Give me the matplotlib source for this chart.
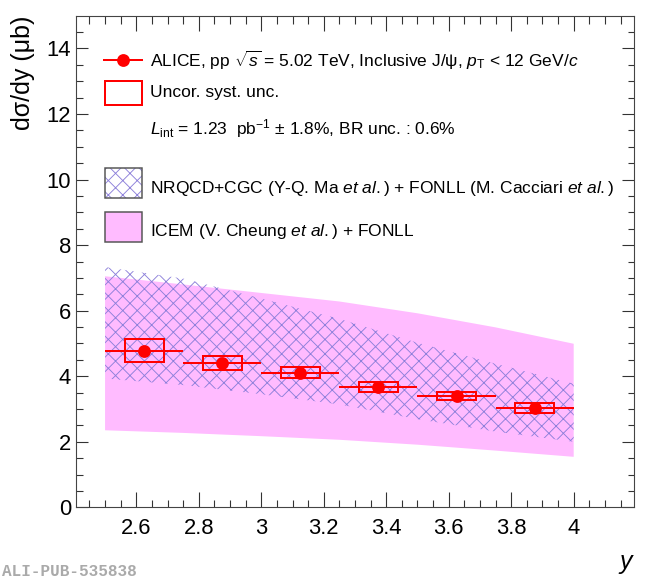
import matplotlib
matplotlib.use("Agg")
import matplotlib.pyplot as plt
from matplotlib.patches import Rectangle
from matplotlib.lines import Line2D
import numpy as np

# ---------------- data ----------------
rap_centers = [2.625, 2.875, 3.125, 3.375, 3.625, 3.875]
rap_halfwidth = [0.125, 0.125, 0.125, 0.125, 0.125, 0.125]
xsec = [4.78, 4.40, 4.11, 3.67, 3.40, 3.02]
xsec_stat = [0.06, 0.05, 0.05, 0.04, 0.04, 0.04]
xsec_syst = [0.36, 0.22, 0.17, 0.14, 0.13, 0.15]
syst_box_halfwidth = 0.0625

model_x = [2.5, 2.75, 3.0, 3.25, 3.5, 3.75, 4.0]
icem_low = [2.35, 2.27, 2.17, 2.06, 1.91, 1.73, 1.54]
icem_high = [7.05, 6.80, 6.54, 6.28, 5.92, 5.49, 4.99]
nrqcd_low = [3.93, 3.73, 3.45, 3.14, 2.69, 2.31, 2.00]
nrqcd_high = [7.33, 6.98, 6.37, 5.75, 5.02, 4.38, 3.77]

xtick_vals = [2.6, 2.8, 3.0, 3.2, 3.4, 3.6, 3.8, 4.0]
xtick_labels = ["2.6", "2.8", "3", "3.2", "3.4", "3.6", "3.8", "4"]
ytick_vals = [0, 2, 4, 6, 8, 10, 12, 14]
ytick_labels = ["0", "2", "4", "6", "8", "10", "12", "14"]

# ---------------- style ----------------
W, H, DPI = 650, 578, 130
plt.rcParams['font.family'] = ['Liberation Sans', 'DejaVu Sans']
plt.rcParams['mathtext.fontset'] = 'custom'
plt.rcParams['mathtext.rm'] = 'Liberation Sans'
plt.rcParams['mathtext.it'] = 'Liberation Sans:italic'
plt.rcParams['mathtext.bf'] = 'Liberation Sans:bold'
plt.rcParams['hatch.linewidth'] = 0.5

def pt(px):
    return px * 72.0 / DPI

RED = '#ff0000'
PINK = '#ffbbff'
HATCH = '#8d80da'

fig = plt.figure(figsize=(W / DPI, H / DPI), dpi=DPI)
L, R, T, B = 76, 634, 15.7, 507.3
ax = fig.add_axes([L / W, 1 - B / H, (R - L) / W, (B - T) / H])
ax.set_xlim(2.407, 4.193)
ax.set_ylim(0, 15)

# bands
ax.fill_between(model_x, icem_low, icem_high, facecolor=PINK, edgecolor='none', lw=0, zorder=1)
ax.fill_between(model_x, nrqcd_low, nrqcd_high, facecolor='none', edgecolor=HATCH,
                hatch='xxx', lw=0, zorder=2)

# syst boxes
for xc, yc, s in zip(rap_centers, xsec, xsec_syst):
    ax.add_patch(Rectangle((xc - syst_box_halfwidth, yc - s), 2 * syst_box_halfwidth, 2 * s,
                           facecolor='none', edgecolor=RED, lw=pt(2.0), zorder=4))
# points
ax.errorbar(rap_centers, xsec, xerr=rap_halfwidth, yerr=xsec_stat, fmt='o', color=RED,
            ms=pt(11), elinewidth=pt(2.0), capsize=0, zorder=5)

# ticks
ax.set_xticks(xtick_vals)
ax.set_xticklabels(xtick_labels)
ax.set_yticks(ytick_vals)
ax.set_yticklabels(ytick_labels)
ax.set_xticks(np.arange(2.45, 4.19, 0.05), minor=True)
ax.set_yticks(np.arange(0.5, 15.0, 0.5), minor=True)
ax.tick_params(which='both', direction='in', top=True, right=True, colors='#333333',
               labelcolor='black', width=pt(1.1))
ax.tick_params(axis='x', which='major', length=pt(15), labelsize=pt(22), pad=pt(11))
ax.tick_params(axis='x', which='minor', length=pt(7.5))
ax.tick_params(axis='y', which='major', length=pt(12), labelsize=pt(22), pad=pt(5))
ax.tick_params(axis='y', which='minor', length=pt(6.5))
for sp in ax.spines.values():
    sp.set_linewidth(pt(1.1))
    sp.set_color('#444444')

# axis titles
fig.text(23 / W, 1 - 16 / H, 'dσ/dy (μb)', rotation=90, ha='center', va='top', fontsize=pt(25))
fig.text(626 / W, 1 - 562 / H, 'y', ha='center', va='center', fontsize=pt(25), style='italic')
fig.text(2 / W, 1 - 571 / H, 'ALI-PUB-535838', ha='left', va='center', fontsize=pt(16),
         family='Liberation Mono', weight='bold', color='#aaaaaa')

# legend (figure pixel coords)
def fx(px):
    return px / W

def fy(py):
    return 1 - py / H

FS = pt(17.4)
TX = 150
fig.add_artist(Line2D([fx(104), fx(142)], [fy(60), fy(60)], color=RED, lw=pt(2.0)))
fig.add_artist(Line2D([fx(123)], [fy(60)], marker='o', color=RED, ms=pt(11)))
fig.text(fx(TX), fy(60), r'ALICE, pp $\sqrt{s}$ = 5.02 TeV, Inclusive J/ψ, $p_{\rm T}$ < 12 GeV/$c$',
         ha='left', va='center', fontsize=FS)
fig.add_artist(Rectangle((fx(105), fy(105)), fx(142) - fx(105), fy(81) - fy(105),
                         transform=fig.transFigure, facecolor='none', edgecolor=RED, lw=pt(2.0)))
fig.text(fx(TX), fy(93), 'Uncor. syst. unc.', ha='left', va='center', fontsize=FS)
fig.text(fx(TX), fy(129), r'$L_{\rm int}$ = 1.23  pb$^{-1}$ ± 1.8%, BR unc. : 0.6%',
         ha='left', va='center', fontsize=FS)
fig.add_artist(Rectangle((fx(105), fy(198)), fx(142) - fx(105), fy(168) - fy(198),
                         transform=fig.transFigure, facecolor='white', edgecolor=HATCH,
                         hatch='xxx', lw=0))
fig.add_artist(Rectangle((fx(105), fy(198)), fx(142) - fx(105), fy(168) - fy(198),
                         transform=fig.transFigure, facecolor='none', edgecolor='#555555', lw=pt(1.5)))
fig.text(fx(TX), fy(189), 'NRQCD+CGC (Y-Q. Ma $et$ $al.$) + FONLL (M. Cacciari $et$ $al.$)',
         ha='left', va='center', fontsize=FS)
fig.add_artist(Rectangle((fx(105), fy(242)), fx(142) - fx(105), fy(212) - fy(242),
                         transform=fig.transFigure, facecolor=PINK, edgecolor='#555555', lw=pt(1.5)))
fig.text(fx(TX), fy(232), 'ICEM (V. Cheung $et$ $al.$) + FONLL', ha='left', va='center', fontsize=FS)

fig.savefig('out.png', dpi=DPI)
